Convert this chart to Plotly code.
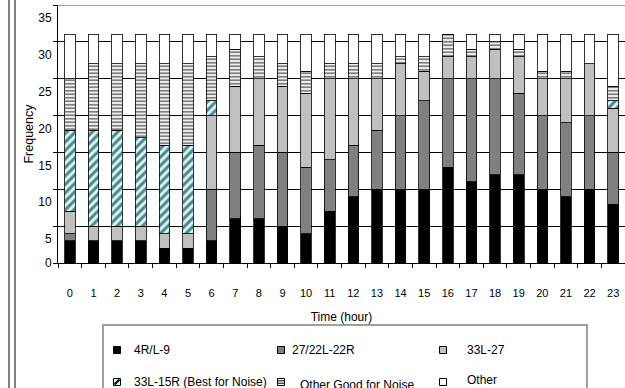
import plotly.graph_objects as go

hours = [str(h) for h in range(24)]
rwy_4rl_9 = [3, 3, 3, 3, 2, 2, 3, 6, 6, 5, 4, 7, 9, 10, 10, 10, 13, 11, 12, 12, 10, 9, 10, 8]
rwy_27_22 = [1, 0, 0, 0, 0, 0, 7, 9, 10, 10, 9, 7, 7, 8, 10, 12, 12, 14, 13, 11, 10, 10, 10, 7]
rwy_33l_27 = [3, 2, 2, 2, 2, 2, 10, 9, 9, 9, 10, 11, 9, 7, 7, 4, 3, 3, 4, 5, 5, 6, 7, 6]
rwy_33l_15r = [11, 13, 13, 12, 12, 12, 2, 0, 0, 0, 0, 0, 0, 0, 0, 0, 0, 0, 0, 0, 0, 0, 0, 1]
other_good = [7, 9, 9, 10, 11, 11, 6, 5, 3, 3, 3, 2, 2, 2, 1, 2, 3, 1, 1, 1, 1, 1, 0, 2]
other = [6, 4, 4, 4, 4, 4, 3, 2, 3, 4, 5, 4, 4, 4, 3, 3, 0, 2, 1, 2, 5, 5, 4, 7]

series_names = ["4R/L-9", "27/22L-22R", "33L-27", "33L-15R (Best for Noise)",
                "Other Good for Noise", "Other"]
y_labels = ["0", "5", "10", "15", "20", "25", "30", "35"]

FONT = "Liberation Sans, Arial, sans-serif"
W, H = 625, 388
L, R, T, B = 58, 0, 5, 125
PW, PH = W - L - R, H - T - B

def px(x):
    return (x - L) / PW

def py(y):
    return (H - B - y) / PH

line = dict(color="black", width=0.8)
fig = go.Figure()
fig.add_bar(x=hours, y=rwy_4rl_9, name=series_names[0], marker=dict(color="#000000", line=line))
fig.add_bar(x=hours, y=rwy_27_22, name=series_names[1], marker=dict(color="#808080", line=line))
fig.add_bar(x=hours, y=rwy_33l_27, name=series_names[2], marker=dict(color="#C0C0C0", line=line))
fig.add_bar(x=hours, y=rwy_33l_15r, name=series_names[3],
            marker=dict(color="#C4FFFF", line=line,
                        pattern=dict(shape="/", fgcolor="black", bgcolor="#C4FFFF",
                                     size=6, solidity=0.5)))
fig.add_bar(x=hours, y=other_good, name=series_names[4],
            marker=dict(color="white", line=line,
                        pattern=dict(shape="-", fgcolor="black", bgcolor="white",
                                     size=3.5, solidity=0.55)))
fig.add_bar(x=hours, y=other, name=series_names[5], marker=dict(color="white", line=line))

# y tick labels as drawn in the reference (sitting just below their gridlines, except 0)
tick_pos = [0] + [5 * i - 1.75 for i in range(1, 8)]

fig.update_layout(
    width=W, height=H,
    margin=dict(l=L, r=R, t=T, b=B, autoexpand=False),
    barmode="stack", bargap=0.55,
    plot_bgcolor="white", paper_bgcolor="white",
    showlegend=False,
    font=dict(family=FONT, color="black"),
    xaxis=dict(type="category", tickson="boundaries", ticks="outside", ticklen=4,
               tickcolor="black", showline=True, linecolor="black", linewidth=1,
               showgrid=False, tickfont=dict(size=11), ticklabelstandoff=20,
               title=dict(text="Time (hour)", font=dict(size=12), standoff=14),
               range=[-0.5, 23.5]),
    yaxis=dict(range=[0, 35], tickvals=tick_pos, ticktext=y_labels, ticks="",
               showgrid=False, zeroline=False, showline=True, linecolor="black",
               linewidth=1, tickfont=dict(size=12), ticklabelstandoff=3,
               minor=dict(dtick=5, tick0=0, showgrid=True, gridcolor="black",
                          gridwidth=1, ticks="outside", ticklen=4, tickcolor="black"),
               title=dict(text="Frequency", font=dict(size=12.5), standoff=1)),
)

shapes = []
# top plot border
shapes.append(dict(type="line", xref="paper", yref="y", x0=0, x1=1, y0=35, y1=35,
                   line=dict(color="#808080", width=1.5)))
# page frame lines at left
for fx in (9, 15):
    shapes.append(dict(type="line", xref="paper", yref="paper", x0=px(fx), x1=px(fx),
                       y0=py(H + 2), y1=py(-2), line=dict(color="black", width=1)))
# legend box
shapes.append(dict(type="rect", xref="paper", yref="paper", x0=px(103), x1=px(587),
                   y0=py(400), y1=py(325), line=dict(color="#808080", width=1.5),
                   fillcolor="rgba(0,0,0,0)"))

cols = [117, 281, 443]
rows = [350, 382]
fills = ["#000000", "#808080", "#C0C0C0", "#C4FFFF", "white", "white"]
s = 3.5
for i, name in enumerate(series_names):
    cx, cy = cols[i % 3], rows[i // 3]
    shapes.append(dict(type="rect", xref="paper", yref="paper",
                       x0=px(cx - s), x1=px(cx + s), y0=py(cy + s), y1=py(cy - s),
                       fillcolor=fills[i], line=dict(color="black", width=1)))
    if i == 3:
        shapes.append(dict(type="line", xref="paper", yref="paper",
                           x0=px(cx - s + 1), x1=px(cx + s - 1), y0=py(cy + s - 1), y1=py(cy - s + 1),
                           line=dict(color="black", width=2)))
    if i == 4:
        for dy in (-1.2, 1.2):
            shapes.append(dict(type="line", xref="paper", yref="paper",
                               x0=px(cx - s), x1=px(cx + s), y0=py(cy + dy), y1=py(cy + dy),
                               line=dict(color="black", width=1)))

text_x = [132, 290, 465]
text_y = {0: 350, 1: 350, 2: 350, 3: 382, 4: 385, 5: 380}
text_x2 = {3: 132, 4: 298, 5: 465}
annotations = []
for i, name in enumerate(series_names):
    tx = text_x[i % 3] if i < 3 else text_x2[i]
    annotations.append(dict(text=name, xref="paper", yref="paper", x=px(tx), y=py(text_y[i]),
                            xanchor="left", yanchor="middle", showarrow=False,
                            font=dict(size=12, family=FONT, color="black")))

fig.update_layout(shapes=shapes, annotations=annotations)
fig.write_html("out.html", config={"displayModeBar": False},
               post_script="document.body.style.margin='0';document.body.style.overflow='hidden';")
